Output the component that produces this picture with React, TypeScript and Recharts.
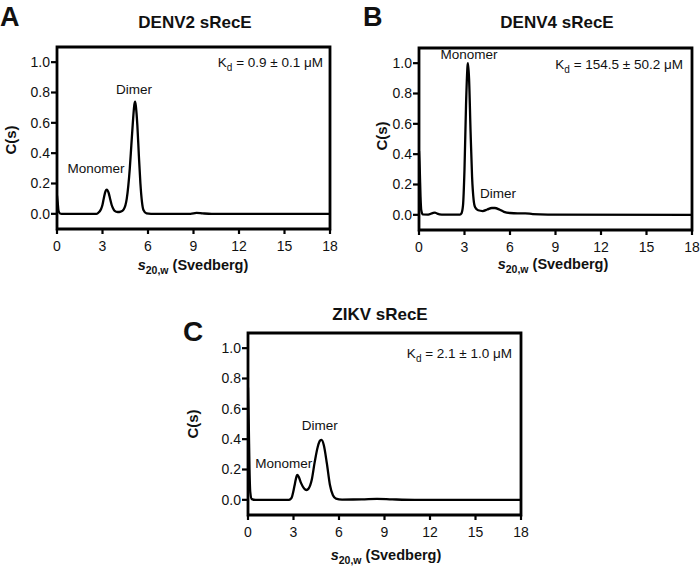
import { LineChart, Line, XAxis, YAxis, ReferenceArea, ReferenceDot } from "recharts";

const FONT = '"Liberation Sans", Arial, Helvetica, sans-serif';

const xTicks = [0, 3, 6, 9, 12, 15, 18];
const yTicks = [0, 0.2, 0.4, 0.6, 0.8, 1.0];

// DENV2 sRecE
const denv2S = [0, 0.05, 0.1, 0.2, 0.3, 2.6, 2.7, 2.9, 3.0, 3.1, 3.2, 3.28, 3.4, 3.5, 3.6, 3.7, 3.8, 4.0, 4.2, 4.4, 4.6, 4.8, 4.9, 5.0, 5.1, 5.15, 5.2, 5.3, 5.4, 5.5, 5.6, 5.7, 5.9, 6.2, 8.8, 9.2, 9.6, 10.2, 18];
const denv2C = [0.12, 0.07, 0.02, 0.002, 0, 0, 0.005, 0.03, 0.06, 0.11, 0.15, 0.16, 0.14, 0.1, 0.06, 0.035, 0.02, 0.012, 0.015, 0.03, 0.1, 0.3, 0.45, 0.6, 0.72, 0.74, 0.71, 0.58, 0.38, 0.2, 0.08, 0.025, 0.003, 0, 0, 0.006, 0.003, 0, 0];

// DENV4 sRecE
const denv4S = [0, 0.05, 0.1, 0.15, 0.25, 0.6, 0.9, 1.05, 1.2, 1.5, 2.7, 2.8, 2.9, 3.0, 3.1, 3.2, 3.23, 3.3, 3.4, 3.5, 3.6, 3.7, 3.9, 4.2, 4.5, 4.8, 5.0, 5.3, 5.6, 6.0, 6.5, 7.0, 7.5, 8.5, 18];
const denv4C = [0.42, 0.3, 0.12, 0.03, 0.003, 0.002, 0.012, 0.015, 0.008, 0.002, 0.002, 0.01, 0.06, 0.3, 0.72, 0.98, 1.0, 0.9, 0.55, 0.25, 0.1, 0.05, 0.03, 0.025, 0.035, 0.045, 0.045, 0.035, 0.02, 0.012, 0.01, 0.01, 0.005, 0.002, 0];

// ZIKV sRecE
const zikvS = [0, 0.05, 0.1, 0.15, 0.25, 0.5, 2.7, 2.8, 2.9, 3.0, 3.1, 3.2, 3.25, 3.35, 3.5, 3.7, 3.85, 4.0, 4.2, 4.4, 4.6, 4.75, 4.85, 5.0, 5.2, 5.4, 5.6, 5.8, 6.2, 7.5, 8.5, 9.5, 11, 18];
const zikvC = [0.74, 0.5, 0.2, 0.05, 0.005, 0, 0, 0.005, 0.02, 0.06, 0.11, 0.155, 0.165, 0.15, 0.11, 0.075, 0.065, 0.075, 0.13, 0.25, 0.35, 0.39, 0.395, 0.36, 0.24, 0.1, 0.03, 0.008, 0.002, 0.003, 0.006, 0.003, 0, 0];

const toRows = (s: number[], c: number[]) => s.map((v, i) => ({ s: v, c: c[i] }));

type Note = { x: number; y: number; text: string; kd?: boolean };

const denv2Notes: Note[] = [
  { x: 2.57, y: 0.27, text: "Monomer" },
  { x: 5.08, y: 0.79, text: "Dimer" },
  { x: 17.54, y: 0.967, text: "0.9 ± 0.1 μM", kd: true },
];
const denv4Notes: Note[] = [
  { x: 3.3, y: 1.026, text: "Monomer" },
  { x: 5.21, y: 0.112, text: "Dimer" },
  { x: 17.41, y: 0.96, text: "154.5 ± 50.2 μM", kd: true },
];
const zikvNotes: Note[] = [
  { x: 2.36, y: 0.21, text: "Monomer" },
  { x: 4.73, y: 0.46, text: "Dimer" },
  { x: 17.41, y: 0.934, text: "2.1 ± 1.0 μM", kd: true },
];

function NoteText({ cx, cy, note }: { cx: number; cy: number; note: Note }) {
  if (note.kd) {
    return (
      <text x={cx} y={cy} textAnchor="end" fontSize={13.5} fontFamily={FONT} fill="#111">
        K<tspan dy={4} fontSize={10}>d</tspan>
        <tspan dy={-4}>{" = " + note.text}</tspan>
      </text>
    );
  }
  return (
    <text x={cx} y={cy} textAnchor="middle" fontSize={13.5} fontFamily={FONT} fill="#111">
      {note.text}
    </text>
  );
}

function Panel({ s, c, notes, left, top }: { s: number[]; c: number[]; notes: Note[]; left: number; top: number }) {
  const data = toRows(s, c);
  return (
    <div style={{ position: "absolute", left, top }}>
      <LineChart width={350} height={285} data={data} margin={{ top: 47, right: 20, bottom: 0, left: 0 }}>
        <XAxis
          type="number"
          dataKey="s"
          domain={[0, 18]}
          ticks={xTicks}
          interval={0}
          height={56}
          axisLine={false}
          tickSize={5}
          tickMargin={7}
          tickLine={{ stroke: "#000", strokeWidth: 2.2 }}
          tick={{ fill: "#111", fontSize: 14, fontFamily: FONT }}
          allowDataOverflow
        />
        <YAxis
          type="number"
          domain={[-0.1, 1.1]}
          ticks={yTicks}
          interval={0}
          width={57}
          axisLine={false}
          tickSize={6}
          tickMargin={1}
          tickLine={{ stroke: "#000", strokeWidth: 2.2 }}
          tick={{ fill: "#111", fontSize: 14, fontFamily: FONT }}
          tickFormatter={(v: number) => v.toFixed(1)}
          allowDataOverflow
        />
        <ReferenceArea x1={0} x2={18} y1={-0.1} y2={1.1} fill="none" stroke="#000" strokeWidth={2.8} />
        <Line
          type="monotone"
          dataKey="c"
          stroke="#000"
          strokeWidth={2.3}
          dot={false}
          isAnimationActive={false}
        />
        {notes.map((n) => (
          <ReferenceDot
            key={n.text}
            x={n.x}
            y={n.y}
            r={0}
            shape={(p: any) => <NoteText cx={p.cx} cy={p.cy} note={n} />}
          />
        ))}
      </LineChart>
    </div>
  );
}

function XLabel({ x, y }: { x: number; y: number }) {
  return (
    <text x={x} y={y} textAnchor="middle" fontSize={14.5} fontWeight="bold" fontFamily={FONT} fill="#111">
      <tspan fontStyle="italic">s</tspan>
      <tspan dy={4} fontSize={10.5}>20,w</tspan>
      <tspan dy={-4}> (Svedberg)</tspan>
    </text>
  );
}

function YLabel({ x, y }: { x: number; y: number }) {
  return (
    <text
      transform={`translate(${x},${y}) rotate(-90)`}
      textAnchor="middle"
      dominantBaseline="central"
      fontSize={15}
      fontWeight="bold"
      fontFamily={FONT}
      fill="#111"
    >
      C(s)
    </text>
  );
}

export default function App() {
  return (
    <div style={{ position: "absolute", left: 0, top: 0, width: 700, height: 568, background: "#fff", fontFamily: FONT }}>
      <Panel s={denv2S} c={denv2C} notes={denv2Notes} left={0} top={0} />
      <Panel s={denv4S} c={denv4C} notes={denv4Notes} left={362} top={1} />
      <Panel s={zikvS} c={zikvC} notes={zikvNotes} left={191} top={286} />
      <svg width={700} height={568} style={{ position: "absolute", left: 0, top: 0, pointerEvents: "none" }}>
        <g fontFamily={FONT} fontWeight="bold" fill="#111">
          <text x={0} y={25.5} fontSize={27}>A</text>
          <text x={363} y={25.5} fontSize={27}>B</text>
          <text x={183} y={341} fontSize={28}>C</text>
          <text x={195} y={28} fontSize={17} textAnchor="middle">DENV2 sRecE</text>
          <text x={557} y={28} fontSize={17} textAnchor="middle">DENV4 sRecE</text>
          <text x={380} y={320} fontSize={17} textAnchor="middle">ZIKV sRecE</text>
        </g>
        <XLabel x={193} y={270} />
        <XLabel x={553} y={269} />
        <XLabel x={386} y={560} />
        <YLabel x={10} y={140} />
        <YLabel x={381} y={136} />
        <YLabel x={192} y={424} />
      </svg>
    </div>
  );
}
